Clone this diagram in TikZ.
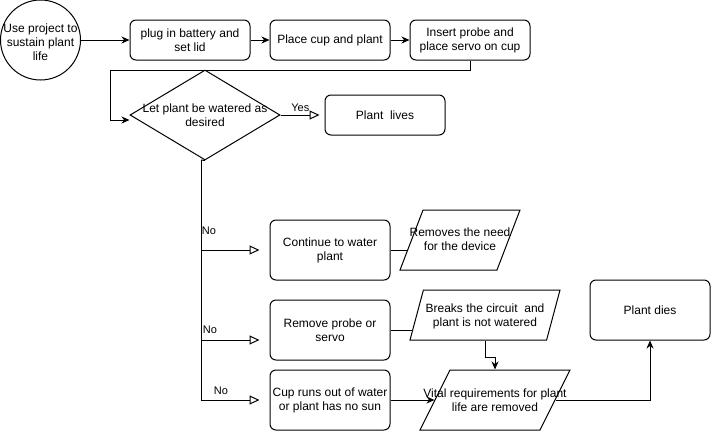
\documentclass[tikz,border=0pt]{standalone}
\usepackage{fontspec}
\setmainfont{Liberation Sans}
\usepackage{tikz}
\usetikzlibrary{shapes,arrows.meta,positioning}
\newcommand{\midtext}[2][-2pt]{\raisebox{#1}[\height][\depth]{\makebox[0pt]{\begin{tabular}{@{}c@{}}#2\end{tabular}}}}
\tikzstyle{stepbox}=[rectangle, rounded corners=6pt, draw, align=center, minimum width=120pt, minimum height=40pt, inner sep=0pt]
\tikzstyle{tallbox}=[stepbox, minimum height=60pt]
\tikzstyle{startcircle}=[circle, draw, minimum size=80pt, inner sep=0pt]
\tikzstyle{decision}=[diamond, draw, minimum width=150pt, minimum height=90pt, inner sep=0pt]
\tikzstyle{iobox}=[trapezium, draw, trapezium stretches body, inner sep=0pt]
\tikzstyle{edgelabel}=[font=\fontsize{11}{13}\selectfont, inner sep=1pt]
\tikzstyle{flow}=[-{Stealth[length=8pt,width=7pt,inset=2.5pt]}, line width=1pt]
\tikzstyle{branch}=[-{Triangle[open,length=10pt,width=9pt]}, line width=1pt, shorten >=10pt]

\begin{document}
\begin{tikzpicture}[x=1pt, y=-1pt, line width=1pt, every node/.style={font=\fontsize{12}{14}\selectfont}]
\useasboundingbox (0,0) rectangle (711,431);

\node[startcircle] (start) at (40.5,40) {\midtext[-4pt]{Use project to\\sustain plant\\life}};
\node[stepbox] (battery) at (190,40) {plug in battery and\\set lid};
\node[stepbox] (cup) at (330,40) {Place cup and plant};
\node[stepbox] (probe) at (470,40) {Insert probe and\\place servo on cup};
\node[decision] (water) at (205,115) {\midtext{Let plant be watered as\\desired}};
\node[stepbox] (lives) at (385,115) {Plant\ \ lives};
\node[tallbox] (keep) at (330,250) {Continue to water\\plant};
\node[tallbox] (remove) at (330,330) {Remove probe or\\servo};
\node[tallbox] (empty) at (330,400) {Cup runs out of water\\or plant has no sun};
\node[iobox, trapezium left angle=69, trapezium right angle=111, minimum width=120pt, text height=30pt, text depth=30pt] (noneed) at (460,240) {\midtext[-4pt]{Removes the need\\for the device}};
\node[iobox, trapezium left angle=75, trapezium right angle=105, minimum width=150pt, text height=25pt, text depth=25pt] (breaks) at (485,315) {\midtext[-5pt]{Breaks the circuit\ \ and\\plant is not watered}};
\node[iobox, trapezium left angle=63.4, trapezium right angle=116.6, minimum width=150pt, text height=30pt, text depth=30pt] (vital) at (495,400) {\midtext[-5pt]{Vital requirements for plant\\life are removed}};
\node[stepbox, minimum height=60pt] (dies) at (650,310) {Plant dies};

\coordinate (loop) at (110,70);
\coordinate (trunk) at (201,160);

\draw[flow] (start.east) -- (battery.west);
\draw[flow] (battery.east) -- (cup.west);
\draw[flow] (cup.east) -- (probe.west);
\draw[flow] (probe.south) |- (loop) |- ([yshift=-5pt]water.west);
\draw[branch, shorten >=5pt] (water.east) -- node[edgelabel, above=2pt, pos=0.45] (yes) {Yes} (lives.west);

\draw (water.south) -- (trunk);
\draw[branch] (trunk) |- (keep.west);
\draw[branch] (trunk) |- ([yshift=-10pt]remove.west);
\draw[branch] (trunk) |- (empty.west);
\node[edgelabel] (no1) at (209,231) {No};
\node[edgelabel] (no2) at (210,330) {No};
\node[edgelabel] (no3) at (221,391) {No};

\draw[shorten >=4pt] (keep.east) -- (keep.east -| noneed.west);
\draw[shorten >=4pt] (remove.east) -- (remove.east -| breaks.west);
\draw[flow] (breaks.center |- breaks.south) -- ++(0,17) -| (vital.center |- vital.north);
\draw[flow] (empty.east) -- (vital.west);
\draw[flow] (vital.east) -| (dies.south);

\end{tikzpicture}
\end{document}
